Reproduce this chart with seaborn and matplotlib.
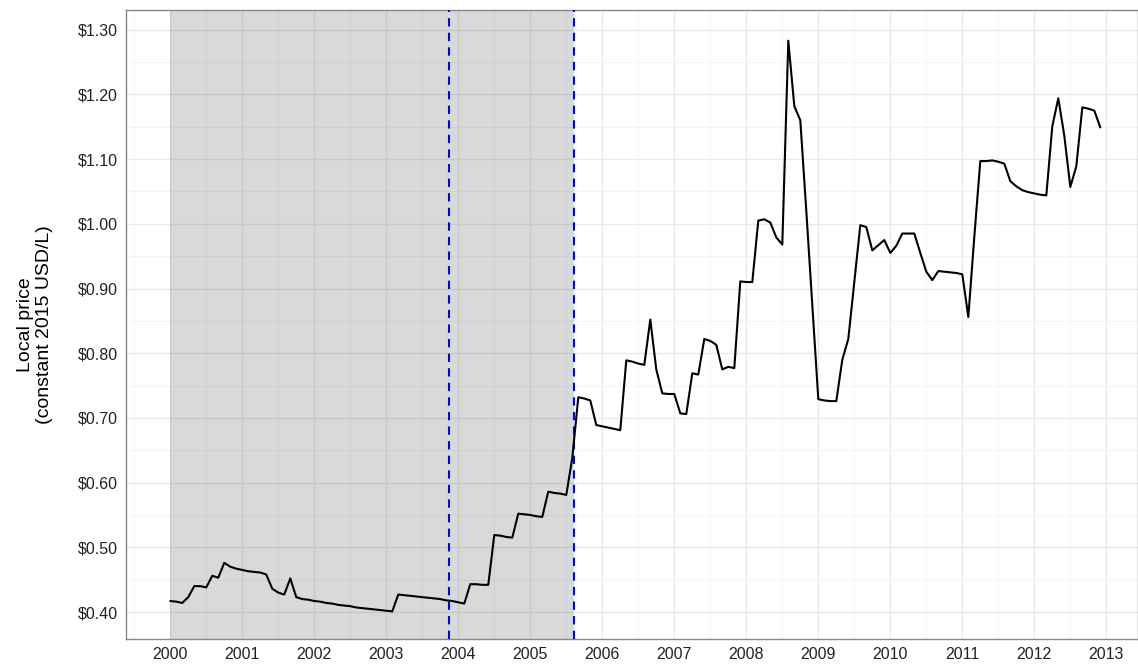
import numpy as np
import pandas as pd
import seaborn as sns
import matplotlib.pyplot as plt
from matplotlib.ticker import FuncFormatter, MultipleLocator


START_YEAR = 2000

# monthly local price, Jan 2000 .. Dec 2012 (constant 2015 USD/L)
price = [
    0.417, 0.416, 0.414, 0.423, 0.440, 0.440, 0.438, 0.456, 0.453, 0.476, 0.470, 0.467,  # 2000
    0.465, 0.463, 0.462, 0.461, 0.458, 0.436, 0.430, 0.427, 0.452, 0.423, 0.420, 0.419,  # 2001
    0.417, 0.416, 0.414, 0.413, 0.411, 0.410, 0.409, 0.407, 0.406, 0.405, 0.404, 0.403,  # 2002
    0.402, 0.401, 0.427, 0.426, 0.425, 0.424, 0.423, 0.422, 0.421, 0.420, 0.418, 0.417,  # 2003
    0.415, 0.413, 0.443, 0.443, 0.442, 0.442, 0.519, 0.518, 0.516, 0.515, 0.552, 0.551,  # 2004
    0.550, 0.548, 0.547, 0.586, 0.584, 0.583, 0.581, 0.638, 0.732, 0.730, 0.727, 0.689,  # 2005
    0.687, 0.685, 0.683, 0.681, 0.789, 0.787, 0.784, 0.782, 0.852, 0.775, 0.738, 0.737,  # 2006
    0.737, 0.707, 0.706, 0.769, 0.767, 0.822, 0.819, 0.813, 0.775, 0.779, 0.777, 0.911,  # 2007
    0.910, 0.910, 1.005, 1.007, 1.002, 0.979, 0.968, 1.283, 1.182, 1.160, 1.020, 0.875,  # 2008
    0.729, 0.727, 0.726, 0.726, 0.790, 0.822, 0.910, 0.998, 0.995, 0.959, 0.967, 0.975,  # 2009
    0.955, 0.966, 0.985, 0.985, 0.985, 0.955, 0.926, 0.913, 0.927, 0.926, 0.925, 0.924,  # 2010
    0.922, 0.856, 0.980, 1.097, 1.097, 1.098, 1.096, 1.093, 1.066, 1.058, 1.052, 1.049,  # 2011
    1.047, 1.045, 1.044, 1.151, 1.194, 1.136, 1.057, 1.089, 1.180, 1.178, 1.175, 1.149,  # 2012
]

shade_span = (2000.0, 2005.61)
event_dates = [2003.87, 2005.61]
x_ticks = list(range(2000, 2014))
y_ticks = [0.40, 0.50, 0.60, 0.70, 0.80, 0.90, 1.00, 1.10, 1.20, 1.30]


def main():
    df = pd.DataFrame({
        "date": START_YEAR + np.arange(len(price)) / 12,
        "price": price,
    })

    sns.set_style("white")
    plt.rcParams["font.family"] = ["Liberation Sans", "DejaVu Sans"]

    fig = plt.figure(figsize=(11.38, 6.67), dpi=100)
    ax = fig.add_axes([0.1107, 0.042, 0.8893, 0.943])

    # theme_bw-ish grid
    ax.set_axisbelow(True)
    ax.xaxis.set_minor_locator(MultipleLocator(0.5))
    ax.yaxis.set_minor_locator(MultipleLocator(0.05))
    ax.grid(which="major", color="#EBEBEB", linewidth=1.0)
    ax.grid(which="minor", color="#F3F3F3", linewidth=0.6)

    ax.axvspan(*shade_span, color="black", alpha=0.15, lw=0, zorder=1)

    for d in event_dates:
        ax.axvline(d, color="blue", linestyle=(0, (4, 3)), linewidth=1.5, zorder=3)

    sns.lineplot(data=df, x="date", y="price", color="black", linewidth=1.5, ax=ax, zorder=4)

    ax.set_xlim(1999.385, 2013.44)
    ax.set_ylim(0.3583, 1.3305)
    ax.set_xticks(x_ticks)
    ax.set_yticks(y_ticks)
    ax.yaxis.set_major_formatter(FuncFormatter(lambda v, _: f"${v:.2f}"))

    ax.tick_params(which="major", direction="out", length=4, width=1, color="#333333",
                   labelsize=11.5, labelcolor="#222222", pad=2)
    ax.tick_params(which="minor", length=0)

    for sp in ax.spines.values():
        sp.set_color("#888888")
        sp.set_linewidth(1.0)

    ax.set_xlabel("")
    ax.set_ylabel("Local price\n(constant 2015 USD/L)", fontsize=14, color="black",
                  labelpad=18, linespacing=1.15)

    plt.savefig("out.png", dpi=100)
    plt.close()


if __name__ == "__main__":
    main()
